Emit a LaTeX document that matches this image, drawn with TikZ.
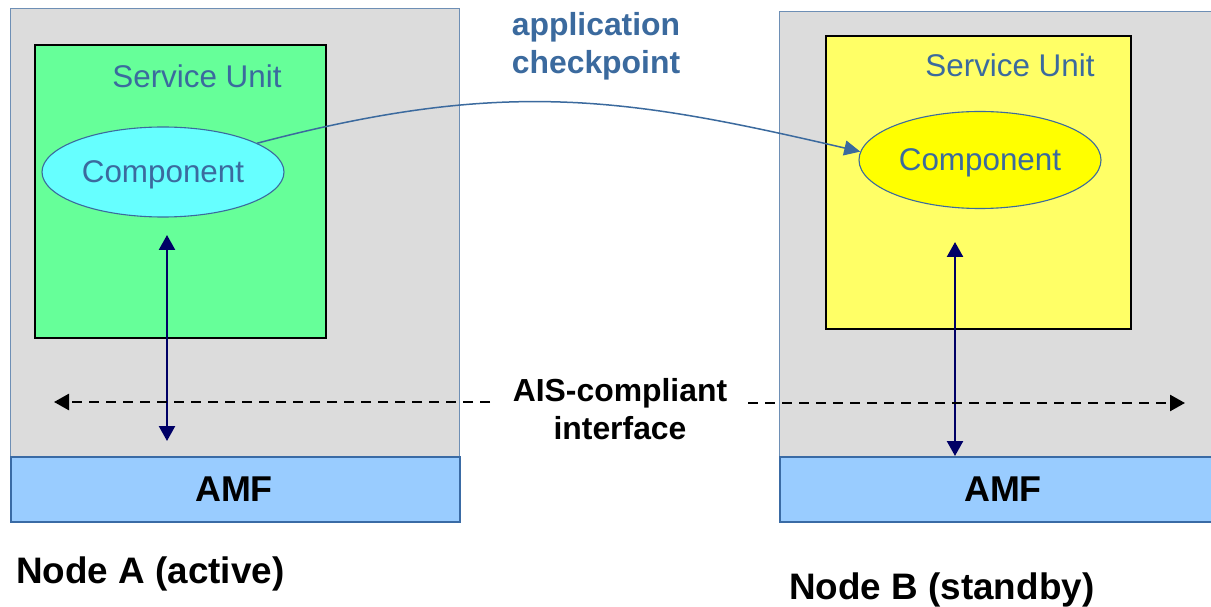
\documentclass[tikz,border=0pt]{standalone}
\usepackage{fontspec}
\setmainfont{Liberation Sans}
\usetikzlibrary{arrows.meta,shapes.geometric}

\definecolor{nodegray}{HTML}{DCDCDC}
\definecolor{nodeedge}{HTML}{6E8FB5}
\definecolor{amffill}{HTML}{99CCFF}
\definecolor{amfedge}{HTML}{3A6BA5}
\definecolor{sugreen}{HTML}{66FF99}
\definecolor{suyellow}{HTML}{FFFF66}
\definecolor{compcyan}{HTML}{66FFFF}
\definecolor{compyellow}{HTML}{FFFF00}
\definecolor{labelblue}{HTML}{3B6A9E}
\definecolor{navyline}{HTML}{000066}

\tikzset{
  hostbox/.style={draw=nodeedge, fill=nodegray, line width=1.4bp, inner sep=0pt, anchor=north west},
  amfbox/.style={draw=amfedge, fill=amffill, line width=1.8bp, inner sep=0pt, anchor=north west},
  amftext/.style={font=\fontsize{36}{40}\selectfont\bfseries, inner sep=0pt},
  subox/.style={draw=black, line width=2bp, inner sep=0pt, anchor=north west},
  sulabel/.style={text=labelblue, font=\fontsize{31.5}{36}\selectfont, inner sep=0pt},
  compnode/.style={ellipse, draw=labelblue, line width=1.1bp, inner sep=0pt, text depth=0pt,
                   minimum width=242bp, text=labelblue, font=\fontsize{31.5}{36}\selectfont},
  amflink/.style={navyline, line width=2.4bp, {Triangle[length=15bp,width=16bp]}-{Triangle[length=15bp,width=16bp]}},
  apilink/.style={black, line width=2.6bp, dash pattern=on 10bp off 7bp, -{Triangle[length=15bp,width=16bp]}},
  ckptlink/.style={labelblue, line width=1.5bp, -{Triangle[length=16bp,width=15bp]}},
  boldtext/.style={font=\fontsize{32}{38.5}\selectfont\bfseries, align=center, inner sep=0pt},
  hostlabel/.style={font=\fontsize{37}{40}\selectfont\bfseries, anchor=west, inner sep=0pt}
}

\begin{document}
\begin{tikzpicture}[x=1bp, y=-1bp]
  \useasboundingbox (0,0) rectangle (1211,607);
  \fill[white] (0,0) rectangle (1211,607);

  % Node A
  \node[hostbox, minimum width=449bp, minimum height=448bp] (hostA) at (10,8) {};
  \node[amfbox, minimum width=449bp, minimum height=65bp] (amfA) at (10,456) {};
  \node[amftext] (amfAtext) at (234,489) {AMF};
  \node[subox, fill=sugreen, minimum width=291bp, minimum height=293bp] (suA) at (34,44) {};
  \node[sulabel] (suAlabel) at (197,76) {Service Unit};
  \node[compnode, fill=compcyan, minimum height=90bp] (compA) at (163,172) {Component};

  % Node B
  \node[hostbox, minimum width=445bp, minimum height=445bp] (hostB) at (779,11) {};
  \node[amfbox, minimum width=445bp, minimum height=65bp] (amfB) at (779,456) {};
  \node[amftext] (amfBtext) at (1003,489) {AMF};
  \node[subox, fill=suyellow, minimum width=305bp, minimum height=293bp] (suB) at (825,35) {};
  \node[sulabel] (suBlabel) at (1010,65) {Service Unit};
  \node[compnode, fill=compyellow, minimum height=97bp] (compB) at (980,160) {Component};

  % AMF interface arrows
  \coordinate (aTop) at (167,235);
  \coordinate (aBot) at (167,441);
  \coordinate (bTop) at (955,242);
  \coordinate (bBot) at (955,456);
  \draw[amflink] (aTop) -- (aBot);
  \draw[amflink] (bTop) -- (bBot);

  % AIS-compliant interface
  \node[boldtext] (ais) at (620,409) {AIS-compliant\\interface};
  \coordinate (apiL) at (54,402);
  \coordinate (apiR) at (1185,403);
  \draw[apilink] (490,402) -- (apiL);
  \draw[apilink] (748,403) -- (apiR);

  % Application checkpoint
  \node[boldtext, text=labelblue] (ckpt) at (596,46) {application\\checkpoint};
  \draw[ckptlink] (compA.17) .. controls (505,78) and (625,97) .. (compB.176);

  % Host labels
  \node[hostlabel] (labelA) at (16,574) {Node A (active)};
  \node[hostlabel] (labelB) at (789,590) {Node B (standby)};
\end{tikzpicture}
\end{document}
